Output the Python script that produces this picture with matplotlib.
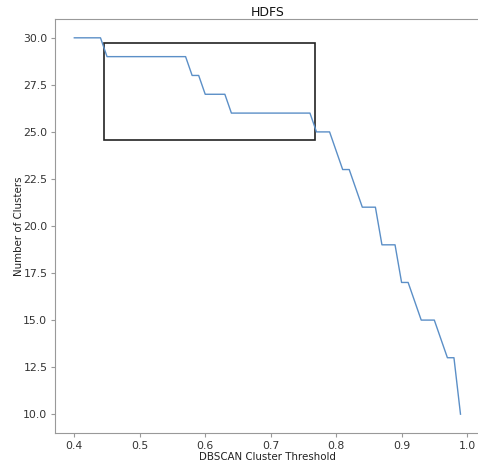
import matplotlib
matplotlib.use('Agg')
import matplotlib.pyplot as plt
from matplotlib.patches import Rectangle

# DBSCAN threshold values 0.40 .. 0.99
thresholds = [round(0.40 + 0.01 * i, 2) for i in range(60)]
clusters = ([30] * 5 + [29] * 13 + [28] * 2 + [27] * 4 + [26] * 13 + [25] * 3
            + [24] + [23] * 2 + [22] + [21] * 3 + [19] * 3 + [17] * 2 + [16]
            + [15] * 3 + [14] + [13] * 2 + [10])

# highlighted region
box_x = (0.446, 0.768)
box_y = (24.57, 29.73)

fig = plt.figure(figsize=(4.78, 4.61), dpi=100)
ax = fig.add_axes([55 / 478, 28 / 461, (479.8 - 55) / 478, (442 - 28) / 461])

ax.plot(thresholds, clusters, color='#5b8fc7', linewidth=1.0)
ax.add_patch(Rectangle((box_x[0], box_y[0]), box_x[1] - box_x[0], box_y[1] - box_y[0],
                       fill=False, edgecolor='#222222', linewidth=1.2))

ax.set_xlim(0.3705, 1.0195)
ax.set_ylim(9, 31)
ax.set_xticks([0.4, 0.5, 0.6, 0.7, 0.8, 0.9, 1.0])
ax.set_yticks([10.0, 12.5, 15.0, 17.5, 20.0, 22.5, 25.0, 27.5, 30.0])
ax.set_xticklabels(['0.4', '0.5', '0.6', '0.7', '0.8', '0.9', '1.0'])
ax.set_yticklabels(['10.0', '12.5', '15.0', '17.5', '20.0', '22.5', '25.0', '27.5', '30.0'])

for s in ax.spines.values():
    s.set_color('#999999')
ax.tick_params(colors='#999999', labelcolor='#333333', labelsize=7.8, length=3, pad=2.5)

ax.set_xlabel('DBSCAN Cluster Threshold', fontsize=7.4, color='#222222', labelpad=1)
ax.set_ylabel('Number of Clusters', fontsize=7.4, color='#222222', labelpad=-0.5)
ax.set_title('HDFS', fontsize=9, color='#111111', pad=2)

fig.savefig('out.png', dpi=100)
